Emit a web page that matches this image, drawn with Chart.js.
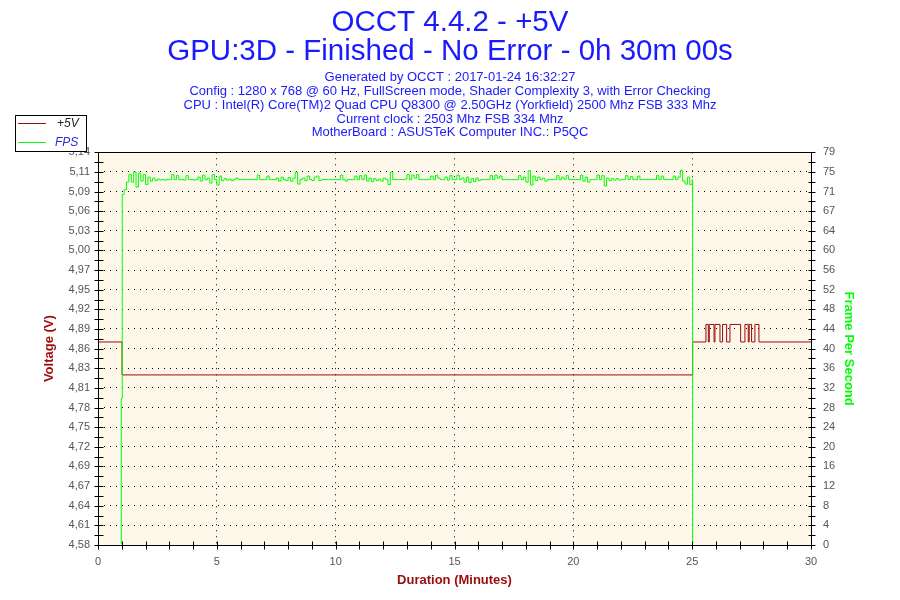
<!DOCTYPE html>
<html>
<head>
<meta charset="utf-8">
<script src="https://cdn.jsdelivr.net/npm/chart.js@4/dist/chart.umd.min.js"></script>
<style>
  body { margin: 0; background: #fff; }
  #wrap { width: 900px; height: 600px; }
</style>
</head>
<body>
<div id="wrap"><canvas id="occtChart" width="900" height="600"></canvas></div>
<script>
// Tick labels
const voltTickLabels = ['4,58', '4,61', '4,64', '4,67', '4,69', '4,72', '4,75', '4,78', '4,81', '4,83', '4,86',
  '4,89', '4,92', '4,95', '4,97', '5,00', '5,03', '5,06', '5,09', '5,11', '5,14'];
const fpsTickLabels = ['0', '4', '8', '12', '16', '20', '24', '28', '32', '36', '40',
  '44', '48', '52', '56', '60', '64', '67', '71', '75', '79'];
const voltMin = 4.5825, voltMax = 5.1425;
const fpsMin = 0, fpsMax = 79;

// +5V (minutes / volts)
const voltTimes = [0, 1.01, 25.02, 25.58, 25.68, 25.72, 25.92, 25.96, 26.17, 26.28, 26.45, 26.59, 27.04, 27.22, 27.36, 27.40, 27.50, 27.64, 27.81, 30];
const voltValues = [4.872, 4.825, 4.872, 4.897, 4.872, 4.897, 4.872, 4.897, 4.872, 4.897, 4.872, 4.897, 4.872, 4.897, 4.872, 4.897, 4.872, 4.897, 4.872, 4.872];

// FPS : start ramp, one sample every 0.1 min from 1.1 to 25.0, then end
const fpsRampTimes = [0, 0.98, 1.02];
const fpsRampValues = [0, 29.5, 70.5];
const fpsStart = 1.1, fpsStep = 0.1;
const fpsValues = [
  71.5, 73.0, 74.5, 73.0, 75.0, 72.0, 74.8, 73.2, 74.5, 72.5, 74.0, 73.2, 73.8, 73.3, 73.6, 73.4, 73.5, 73.4, 73.5, 73.5,
  74.5, 73.5, 74.3, 73.5, 73.5, 73.4, 74.3, 73.5, 73.5, 73.4, 73.5, 74.0, 73.2, 74.4, 73.5, 73.8, 72.8, 74.5, 73.5, 72.4,
  74.2, 73.3, 73.7, 73.4, 73.6, 73.3, 73.5, 73.8, 73.5, 73.5, 73.5, 73.5, 73.5, 73.5, 73.5, 73.5, 74.4, 73.5, 73.5, 73.5,
  74.2, 73.5, 73.5, 73.5, 73.8, 73.2, 74.0, 73.5, 73.3, 73.9, 73.2, 73.8, 75.0, 72.6, 73.5, 73.8, 73.3, 74.2, 73.5, 73.3,
  74.0, 74.2, 73.3, 73.5, 73.5, 73.5, 73.5, 73.5, 73.5, 73.5, 73.5, 74.4, 73.5, 73.2, 73.5, 73.5, 73.5, 74.2, 73.5, 74.3,
  73.5, 74.4, 73.2, 73.8, 73.1, 73.7, 73.3, 73.6, 73.2, 73.8, 73.5, 72.5, 75.0, 73.5, 73.5, 73.5, 73.5, 73.5, 73.6, 74.5,
  73.5, 74.4, 73.8, 74.5, 73.5, 73.5, 73.5, 73.5, 73.5, 74.2, 73.5, 74.4, 73.8, 73.5, 73.5, 74.0, 73.4, 74.3, 73.5, 73.5,
  74.4, 73.5, 73.8, 73.0, 74.0, 72.9, 73.7, 73.1, 73.8, 73.3, 73.5, 73.5, 73.5, 73.5, 74.3, 73.5, 74.4, 73.8, 74.2, 73.5,
  73.5, 73.5, 73.5, 73.5, 73.5, 73.5, 74.3, 73.5, 74.0, 73.0, 75.3, 72.4, 74.2, 73.3, 74.0, 73.5, 73.8, 73.2, 73.5, 73.5,
  73.5, 73.5, 74.3, 73.5, 74.0, 73.6, 74.3, 73.5, 73.5, 73.5, 73.5, 73.5, 74.4, 73.2, 74.0, 73.0, 73.5, 73.5, 73.5, 74.4,
  73.5, 74.3, 72.2, 73.8, 73.3, 73.7, 73.4, 73.7, 73.4, 73.5, 73.5, 74.3, 73.5, 74.1, 73.5, 73.5, 74.2, 73.5, 73.5, 73.5,
  73.5, 73.5, 73.5, 73.5, 74.3, 73.5, 74.2, 73.5, 73.5, 73.5, 73.5, 74.2, 73.5, 74.0, 75.3, 73.2, 72.6, 74.0, 72.5, 73.5
];
const fpsEndTimes = [25.02, 30];
const fpsEndValues = [0, 0];

const voltPoints = voltTimes.map((t, i) => ({ x: t, y: voltValues[i] }));
const fpsPoints = fpsRampTimes.map((t, i) => ({ x: t, y: fpsRampValues[i] }))
  .concat(fpsValues.map((v, i) => ({ x: fpsStart + i * fpsStep, y: v })))
  .concat(fpsEndTimes.map((t, i) => ({ x: t, y: fpsEndValues[i] })));

const RED = '#9c0a0a';
const GREEN = '#00ff00';
const BLUE = '#1a1aff';
const SANS = '"Liberation Sans", Arial, sans-serif';

// cream plot area, box around it, ticks crossing the axes, legend box
const occtFrame = {
  id: 'occtFrame',
  beforeDraw(chart) {
    const { ctx, chartArea: a } = chart;
    ctx.save();
    ctx.fillStyle = '#fdf8ea';
    ctx.fillRect(a.left, a.top, a.right - a.left, a.bottom - a.top);
    ctx.restore();
  },
  afterDraw(chart) {
    const { ctx, chartArea: a, scales } = chart;
    const L = Math.round(a.left) + 0.5, R = Math.round(a.right) + 0.5;
    const T = Math.round(a.top) + 0.5, B = Math.round(a.bottom) + 0.5;
    ctx.save();
    ctx.strokeStyle = '#000';
    ctx.lineWidth = 1;
    ctx.beginPath();
    ctx.moveTo(L, T); ctx.lineTo(R, T); ctx.lineTo(R, B); ctx.lineTo(L, B); ctx.closePath();
    // left axis ticks (major + middle)
    for (let i = 0; i < voltTickLabels.length * 2 - 1; i++) {
      const v = voltMin + i * (voltMax - voltMin) / 40;
      const y = Math.round(scales.yV.getPixelForValue(v)) + 0.5;
      ctx.moveTo(L - 4, y); ctx.lineTo(L + 5, y);
    }
    for (let i = 0; i < fpsTickLabels.length * 2 - 1; i++) {
      const v = fpsMin + i * (fpsMax - fpsMin) / 40;
      const y = Math.round(scales.yF.getPixelForValue(v)) + 0.5;
      ctx.moveTo(R - 3, y); ctx.lineTo(R + 4, y);
    }
    for (let m = 0; m <= 30; m++) {
      const x = Math.round(scales.x.getPixelForValue(m)) + 0.5;
      ctx.moveTo(x, B - 4); ctx.lineTo(x, B + 4);
    }
    ctx.stroke();

    // legend
    ctx.fillStyle = '#fff';
    ctx.fillRect(15.5, 115.5, 71, 36);
    ctx.strokeRect(15.5, 115.5, 71, 36);
    ctx.lineWidth = 1;
    ctx.strokeStyle = RED;
    ctx.beginPath(); ctx.moveTo(18, 123.5); ctx.lineTo(46, 123.5); ctx.stroke();
    ctx.strokeStyle = GREEN;
    ctx.beginPath(); ctx.moveTo(18, 142.5); ctx.lineTo(46, 142.5); ctx.stroke();
    ctx.font = 'italic 12px ' + SANS;
    ctx.textBaseline = 'middle';
    ctx.fillStyle = '#222';
    ctx.fillText('+5V', 57, 124);
    ctx.fillStyle = '#2a2ad8';
    ctx.fillText('FPS', 55, 143);
    ctx.restore();
  }
};

const tickFont = { family: SANS, size: 11 };
const axisTitleFont = { family: SANS, size: 13, weight: 'bold' };

const ctx = document.getElementById('occtChart').getContext('2d');
new Chart(ctx, {
  type: 'line',
  data: {
    datasets: [{
      label: 'FPS',
      data: fpsPoints,
      yAxisID: 'yF',
      borderColor: GREEN,
      borderWidth: 1,
      pointRadius: 0,
      stepped: true,
      clip: { left: 0, top: 0, right: 0, bottom: -1 },
      order: 0
    }, {
      label: '+5V',
      data: voltPoints,
      yAxisID: 'yV',
      borderColor: RED,
      borderWidth: 1,
      pointRadius: 0,
      stepped: true,
      order: 1
    }]
  },
  options: {
    responsive: false,
    animation: false,
    layout: { padding: 0 },
    plugins: {
      legend: { display: false },
      tooltip: { enabled: false },
      title: {
        display: true,
        text: ['OCCT 4.4.2 - +5V', 'GPU:3D - Finished - No Error - 0h 30m 00s'],
        color: BLUE,
        font: { family: SANS, size: 29.5, weight: 'normal', lineHeight: 0.983 },
        padding: { top: 8.5, bottom: 3.5 }
      },
      subtitle: {
        display: true,
        text: [
          'Generated by OCCT : 2017-01-24 16:32:27',
          'Config : 1280 x 768 @ 60 Hz, FullScreen mode, Shader Complexity 3, with Error Checking',
          'CPU : Intel(R) Core(TM)2 Quad CPU Q8300 @ 2.50GHz (Yorkfield) 2500 Mhz FSB 333 Mhz',
          'Current clock : 2503 Mhz FSB 334 Mhz',
          'MotherBoard : ASUSTeK Computer INC.: P5QC'
        ],
        color: BLUE,
        font: { family: SANS, size: 13, lineHeight: 1.058 },
        padding: { top: 1, bottom: 12.5 }
      }
    },
    scales: {
      x: {
        type: 'linear',
        min: 0,
        max: 30,
        afterFit: s => { s.height = 55; },
        ticks: {
          stepSize: 1,
          autoSkip: false,
          maxRotation: 0,
          padding: 10,
          color: '#555',
          font: tickFont,
          callback: v => (v % 5 === 0 ? String(v) : '')
        },
        grid: {
          drawTicks: false,
          lineWidth: 1,
          color: c => (c.tick && c.tick.value % 5 === 0 && c.tick.value > 0 && c.tick.value < 30 ? '#000' : 'rgba(0,0,0,0)')
        },
        border: { display: false, dash: [1, 5] },
        title: {
          display: true,
          text: 'Duration (Minutes)',
          color: RED,
          font: axisTitleFont,
          padding: { top: 0, bottom: 12 }
        }
      },
      yV: {
        type: 'linear',
        position: 'left',
        min: voltMin,
        max: voltMax,
        afterFit: s => { s.width = 98; },
        afterBuildTicks: s => {
          s.ticks = voltTickLabels.map((l, i) => ({ value: voltMin + i * (voltMax - voltMin) / 20 }));
        },
        ticks: {
          padding: 8,
          color: '#555',
          font: tickFont,
          callback: (v, i) => voltTickLabels[i]
        },
        grid: {
          drawTicks: false,
          lineWidth: 1,
          color: c => (c.index > 0 && c.index < 20 ? '#000' : 'rgba(0,0,0,0)')
        },
        border: { display: false, dash: [1, 5] },
        title: {
          display: true,
          text: 'Voltage (V)',
          color: RED,
          font: axisTitleFont,
          padding: { top: 42, bottom: 0 }
        }
      },
      yF: {
        type: 'linear',
        position: 'right',
        min: fpsMin,
        max: fpsMax,
        afterFit: s => { s.width = 89; },
        afterBuildTicks: s => {
          s.ticks = fpsTickLabels.map((l, i) => ({ value: fpsMin + i * (fpsMax - fpsMin) / 20 }));
        },
        ticks: {
          padding: 4,
          color: '#555',
          font: tickFont,
          callback: (v, i) => fpsTickLabels[i]
        },
        grid: { display: false },
        border: { display: false },
        title: {
          display: true,
          text: 'Frame Per Second',
          color: GREEN,
          font: axisTitleFont,
          padding: { top: 44, bottom: 0 }
        }
      }
    }
  },
  plugins: [occtFrame]
});
</script>
</body>
</html>
